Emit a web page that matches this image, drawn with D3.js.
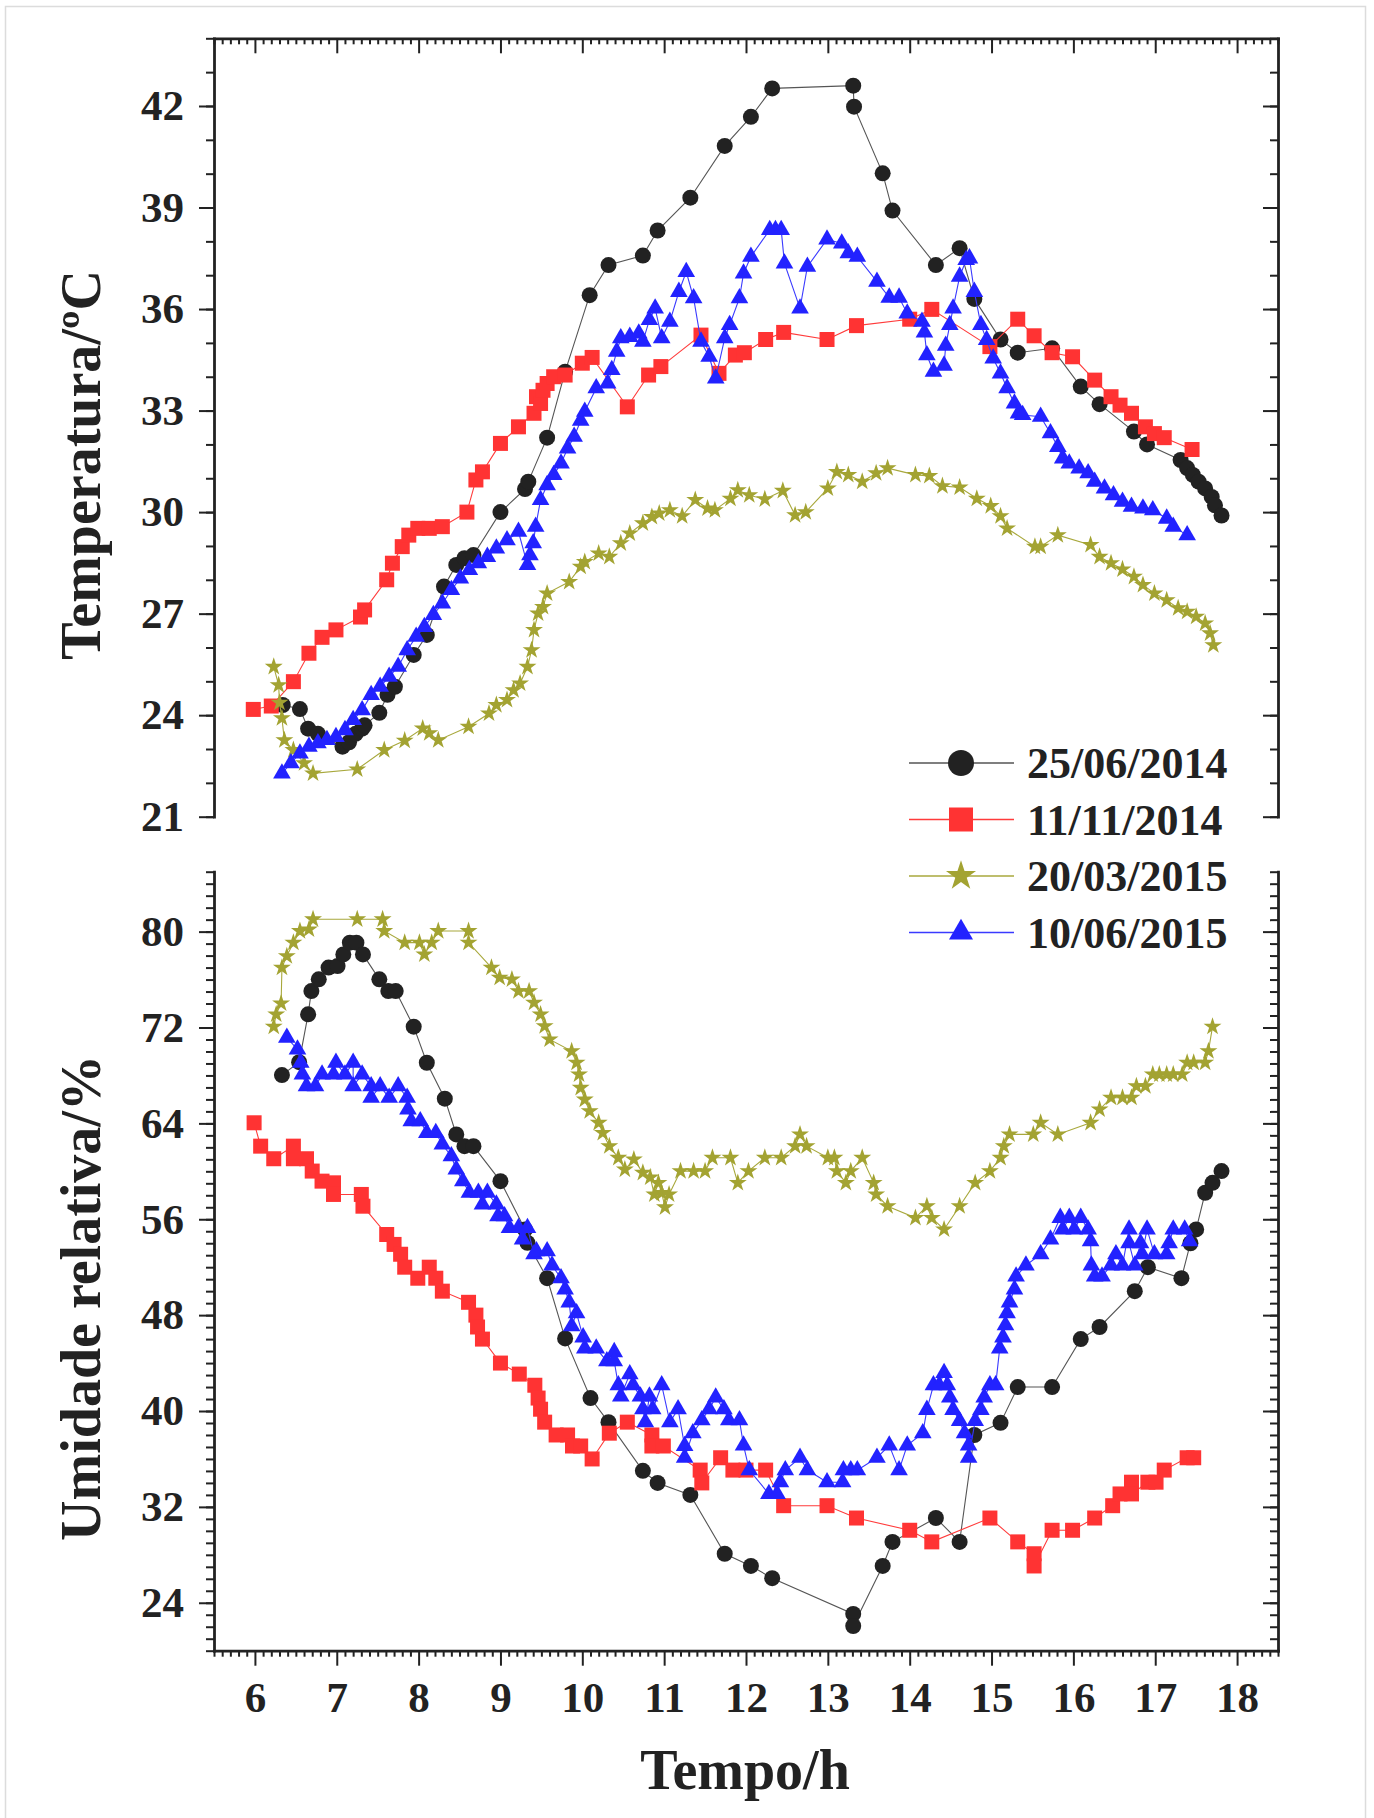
<!DOCTYPE html>
<html>
<head>
<meta charset="utf-8">
<script src="https://cdn.jsdelivr.net/npm/d3@7"></script>
<style>
  body { margin: 0; background: #fff; }
  svg text { font-family: "Liberation Serif", "Times New Roman", serif; font-weight: bold; fill: #222; }
</style>
</head>
<body>
<svg id="chart" width="1374" height="1818"></svg>
<script>
// series names (legend)
const seriesNames = ['25/06/2014', '11/11/2014', '20/03/2015', '10/06/2015'];

// temperature, [hour, degC]
const tempA = [[6.34,24.3],[6.55,24.18],[6.65,23.6],[6.77,23.45],[7.07,23.07],[7.15,23.2],[7.23,23.45],[7.31,23.6],[7.34,23.7],[7.52,24.07],[7.62,24.6],[7.71,24.84],[7.94,25.78],[8.1,26.37],[8.31,27.8],[8.46,28.44],[8.56,28.64],[8.67,28.73],[9.0,30.0],[9.3,30.68],[9.34,30.9],[9.57,32.2],[9.79,34.15],[10.09,36.41],[10.32,37.3],[10.74,37.58],[10.92,38.32],[11.32,39.29],[11.74,40.82],[12.06,41.68],[12.32,42.52],[13.31,42.6],[13.32,41.98],[13.67,40.01],[13.79,38.91],[14.32,37.3],[14.61,37.8],[14.79,36.3],[15.11,35.1],[15.32,34.71],[15.74,34.84],[16.09,33.71],[16.32,33.19],[16.74,32.38],[16.9,32.0],[17.31,31.54],[17.39,31.3],[17.46,31.1],[17.53,30.9],[17.61,30.7],[17.69,30.45],[17.73,30.2],[17.81,29.9]];
const tempB = [[5.98,24.17],[6.2,24.27],[6.47,24.99],[6.66,25.83],[6.82,26.3],[6.99,26.52],[7.29,26.9],[7.34,27.11],[7.61,28.0],[7.68,28.49],[7.8,28.98],[7.88,29.32],[7.99,29.52],[8.13,29.52],[8.29,29.57],[8.59,30.0],[8.7,30.95],[8.78,31.19],[9.0,32.03],[9.22,32.52],[9.41,32.92],[9.44,33.41],[9.49,33.21],[9.52,33.6],[9.57,33.8],[9.65,34.0],[9.79,34.05],[10.0,34.4],[10.12,34.57],[10.55,33.11],[10.81,34.05],[10.96,34.3],[11.45,35.23],[11.67,34.1],[11.87,34.64],[11.98,34.71],[12.24,35.1],[12.46,35.31],[12.99,35.1],[13.35,35.51],[14.0,35.7],[14.27,35.99],[14.98,34.89],[15.32,35.7],[15.52,35.21],[15.74,34.71],[15.99,34.59],[16.26,33.9],[16.46,33.41],[16.57,33.16],[16.71,32.92],[16.88,32.52],[16.99,32.32],[17.11,32.2],[17.45,31.85]];
const tempC = [[6.23,25.43],[6.29,24.89],[6.3,24.37],[6.33,23.91],[6.36,23.26],[6.47,22.97],[6.6,22.58],[6.71,22.28],[7.25,22.4],[7.58,22.97],[7.83,23.25],[8.05,23.61],[8.13,23.47],[8.24,23.26],[8.61,23.66],[8.86,24.05],[8.95,24.3],[9.08,24.45],[9.16,24.74],[9.24,24.94],[9.33,25.43],[9.38,25.92],[9.41,26.52],[9.46,27.01],[9.52,27.2],[9.57,27.6],[9.84,27.94],[9.98,28.39],[10.03,28.53],[10.2,28.78],[10.33,28.68],[10.47,29.08],[10.58,29.37],[10.74,29.67],[10.85,29.86],[10.94,29.96],[11.07,30.06],[11.22,29.88],[11.38,30.36],[11.53,30.11],[11.62,30.06],[11.81,30.4],[11.9,30.65],[12.04,30.5],[12.23,30.38],[12.45,30.63],[12.6,29.91],[12.73,30.0],[13.0,30.7],[13.11,31.19],[13.25,31.1],[13.42,30.9],[13.59,31.15],[13.73,31.3],[14.07,31.1],[14.24,31.07],[14.4,30.77],[14.61,30.73],[14.82,30.4],[14.99,30.18],[15.11,29.88],[15.19,29.52],[15.53,28.98],[15.6,28.98],[15.81,29.32],[16.21,29.03],[16.32,28.68],[16.46,28.49],[16.6,28.31],[16.74,28.09],[16.85,27.85],[16.99,27.6],[17.14,27.4],[17.28,27.16],[17.39,27.06],[17.5,26.91],[17.61,26.71],[17.67,26.42],[17.71,26.07]];
const tempD = [[6.33,22.28],[6.44,22.58],[6.55,22.87],[6.66,23.07],[6.77,23.17],[6.88,23.27],[6.99,23.36],[7.1,23.56],[7.2,23.86],[7.31,24.15],[7.42,24.6],[7.53,24.84],[7.64,25.14],[7.75,25.43],[7.86,25.92],[7.97,26.32],[8.07,26.61],[8.18,26.96],[8.29,27.3],[8.4,27.7],[8.51,28.04],[8.62,28.29],[8.73,28.49],[8.84,28.68],[8.95,28.93],[9.08,29.17],[9.22,29.42],[9.33,28.44],[9.36,28.73],[9.4,29.08],[9.43,29.57],[9.49,30.36],[9.57,30.8],[9.65,31.1],[9.74,31.44],[9.82,31.88],[9.9,32.23],[9.98,32.7],[10.03,32.97],[10.17,33.66],[10.31,33.8],[10.36,34.2],[10.42,34.74],[10.47,35.14],[10.58,35.18],[10.69,35.28],[10.74,35.04],[10.82,35.68],[10.89,36.02],[10.97,35.14],[11.07,35.63],[11.18,36.51],[11.27,37.1],[11.36,36.32],[11.45,35.04],[11.55,34.59],[11.63,33.95],[11.74,35.14],[11.8,35.53],[11.92,36.32],[11.97,37.05],[12.06,37.55],[12.29,38.34],[12.36,38.34],[12.43,38.34],[12.47,37.35],[12.66,36.02],[12.75,37.25],[12.99,38.06],[13.17,37.94],[13.25,37.65],[13.36,37.55],[13.6,36.81],[13.75,36.34],[13.87,36.34],[13.97,35.87],[14.15,35.63],[14.18,35.31],[14.21,34.64],[14.29,34.15],[14.42,34.33],[14.44,34.92],[14.49,35.53],[14.53,36.02],[14.61,36.96],[14.69,37.45],[14.73,37.5],[14.79,36.51],[14.87,35.53],[14.94,35.09],[15.02,34.54],[15.11,34.1],[15.19,33.66],[15.28,33.21],[15.33,32.92],[15.38,32.87],[15.6,32.82],[15.72,32.33],[15.81,31.93],[15.87,31.59],[15.95,31.44],[16.07,31.29],[16.18,31.15],[16.26,30.9],[16.38,30.7],[16.49,30.5],[16.6,30.31],[16.71,30.16],[16.85,30.11],[16.97,30.06],[17.14,29.81],[17.22,29.57],[17.39,29.32]];

// relative humidity, [hour, %]
const rhA = [[6.33,68.03],[6.54,69.11],[6.65,73.1],[6.69,75.04],[6.78,76.02],[6.9,77.0],[7.01,77.13],[7.08,78.1],[7.16,79.08],[7.24,79.08],[7.32,78.1],[7.52,76.02],[7.63,75.04],[7.72,75.04],[7.94,72.07],[8.1,69.06],[8.32,66.06],[8.46,63.08],[8.56,62.1],[8.67,62.1],[9.0,59.18],[9.3,55.15],[9.33,54.03],[9.57,51.08],[9.79,46.06],[10.1,41.08],[10.32,39.07],[10.74,35.01],[10.92,34.0],[11.32,33.0],[11.74,28.09],[12.06,27.07],[12.32,26.05],[13.31,23.07],[13.31,22.06],[13.67,27.07],[13.79,29.08],[14.32,31.07],[14.61,29.08],[14.79,38.0],[15.11,39.01],[15.32,42.0],[15.74,42.0],[16.09,46.0],[16.32,47.01],[16.75,50.0],[16.91,52.0],[17.32,51.08],[17.43,54.0],[17.5,55.15],[17.61,58.21],[17.7,59.04],[17.81,60.02]];
const rhB = [[5.99,64.05],[6.07,62.1],[6.23,61.05],[6.47,62.1],[6.47,61.05],[6.63,61.05],[6.7,60.02],[6.82,59.18],[6.96,59.04],[6.96,58.07],[7.3,58.07],[7.32,57.09],[7.61,54.73],[7.7,53.9],[7.78,53.08],[7.83,52.0],[7.99,51.08],[8.13,52.0],[8.21,51.08],[8.29,50.0],[8.61,49.07],[8.7,48.0],[8.72,47.01],[8.78,46.0],[9.0,44.0],[9.23,43.08],[9.42,42.15],[9.46,41.08],[9.49,40.15],[9.54,39.07],[9.68,38.0],[9.82,38.0],[9.88,37.08],[9.98,37.08],[10.12,36.0],[10.33,38.15],[10.55,39.07],[10.85,38.0],[10.85,37.08],[10.99,37.08],[11.44,35.07],[11.46,34.0],[11.69,36.1],[11.84,35.07],[12.0,35.07],[12.24,35.07],[12.46,32.1],[12.99,32.1],[13.35,31.07],[14.0,30.05],[14.27,29.08],[14.98,31.07],[15.32,29.08],[15.52,28.09],[15.52,27.07],[15.74,30.05],[15.99,30.05],[16.26,31.07],[16.48,32.1],[16.57,33.08],[16.71,34.06],[16.71,33.08],[16.91,34.06],[17.01,34.06],[17.11,35.07],[17.39,36.1],[17.47,36.1]];
const rhC = [[6.23,72.07],[6.26,73.1],[6.32,74.01],[6.33,77.0],[6.39,77.96],[6.47,79.08],[6.55,80.05],[6.66,80.19],[6.71,81.03],[7.25,81.03],[7.56,81.03],[7.58,80.05],[7.83,79.08],[8.01,79.08],[8.07,78.1],[8.16,79.08],[8.24,80.05],[8.61,80.05],[8.61,79.08],[8.89,77.0],[8.99,76.16],[9.14,76.02],[9.22,75.04],[9.35,75.04],[9.41,74.07],[9.49,73.1],[9.54,72.12],[9.6,71.0],[9.87,70.03],[9.93,69.06],[9.96,68.08],[9.98,66.97],[10.03,65.99],[10.09,65.02],[10.2,64.05],[10.25,63.21],[10.33,62.1],[10.44,61.13],[10.52,60.15],[10.63,60.99],[10.74,59.88],[10.83,59.5],[10.88,58.07],[10.93,59.04],[10.97,58.2],[11.01,57.0],[11.06,58.07],[11.2,60.02],[11.36,60.02],[11.5,60.02],[11.59,61.13],[11.81,61.13],[11.9,59.04],[12.03,60.02],[12.23,61.13],[12.43,61.13],[12.6,62.1],[12.66,63.08],[12.74,62.1],[13.0,61.13],[13.08,61.13],[13.11,60.02],[13.22,59.04],[13.28,60.02],[13.42,61.13],[13.56,59.04],[13.59,58.07],[13.73,57.09],[14.07,56.12],[14.21,57.09],[14.27,56.12],[14.42,55.15],[14.61,57.09],[14.8,59.04],[14.98,60.02],[15.11,61.13],[15.15,62.1],[15.22,63.08],[15.51,63.08],[15.6,64.05],[15.81,63.08],[16.21,64.05],[16.32,65.16],[16.46,66.14],[16.6,66.14],[16.71,66.14],[16.77,67.11],[16.88,67.11],[16.97,68.08],[17.05,68.08],[17.14,68.08],[17.22,68.08],[17.33,68.08],[17.39,69.06],[17.47,69.06],[17.61,69.06],[17.65,70.03],[17.7,72.07]];
const rhD = [[6.39,71.15],[6.52,70.17],[6.56,69.06],[6.58,68.08],[6.63,67.11],[6.74,67.11],[6.82,68.08],[6.96,68.08],[6.99,69.06],[7.1,68.08],[7.2,69.06],[7.2,67.11],[7.31,68.08],[7.42,67.11],[7.42,66.14],[7.53,67.11],[7.64,66.14],[7.75,67.11],[7.86,66.14],[7.87,65.16],[7.91,64.19],[8.02,64.19],[8.1,63.21],[8.21,63.21],[8.29,62.24],[8.4,61.26],[8.46,60.15],[8.54,59.18],[8.62,58.21],[8.73,58.21],[8.78,57.23],[8.84,58.21],[8.95,57.23],[8.97,56.25],[9.05,56.25],[9.11,55.28],[9.22,55.28],[9.27,54.31],[9.33,55.28],[9.41,53.08],[9.44,53.33],[9.57,53.33],[9.63,52.15],[9.74,51.08],[9.79,50.15],[9.84,49.07],[9.87,47.08],[9.93,48.16],[10.01,46.15],[10.03,45.23],[10.17,45.23],[10.3,44.15],[10.39,44.92],[10.39,44.15],[10.44,42.15],[10.47,41.22],[10.58,43.08],[10.62,42.15],[10.71,41.22],[10.74,40.15],[10.77,39.07],[10.82,41.22],[10.86,40.15],[10.97,42.15],[11.07,39.07],[11.17,40.15],[11.25,37.08],[11.25,36.1],[11.35,38.15],[11.46,39.23],[11.55,40.15],[11.63,41.13],[11.73,40.15],[11.79,39.23],[11.92,39.23],[11.97,37.13],[12.04,35.07],[12.28,33.08],[12.38,33.08],[12.42,34.06],[12.48,35.07],[12.66,36.1],[12.75,35.07],[12.99,34.06],[13.18,34.06],[13.19,35.07],[13.28,35.07],[13.36,35.07],[13.6,36.1],[13.75,37.13],[13.87,35.07],[13.97,37.13],[14.16,38.15],[14.21,40.1],[14.29,42.15],[14.36,42.15],[14.42,43.17],[14.46,42.15],[14.49,41.13],[14.53,40.1],[14.61,39.17],[14.67,38.15],[14.72,37.13],[14.72,36.1],[14.8,39.17],[14.87,40.1],[14.91,41.13],[14.98,42.15],[15.05,42.15],[15.1,45.23],[15.14,46.15],[15.17,47.17],[15.19,48.16],[15.22,49.07],[15.28,50.15],[15.3,51.23],[15.42,52.15],[15.6,53.08],[15.72,54.31],[15.84,56.12],[15.87,55.15],[15.95,56.12],[16.01,55.15],[16.09,56.12],[16.18,55.15],[16.21,54.17],[16.22,52.15],[16.26,51.23],[16.35,51.23],[16.46,52.15],[16.52,53.08],[16.6,52.15],[16.68,55.15],[16.68,54.0],[16.75,52.15],[16.82,54.0],[16.84,53.08],[16.9,55.15],[16.99,53.08],[17.14,53.08],[17.17,54.0],[17.22,55.15],[17.36,55.15],[17.42,54.17]];

// tick values
const hourTicks = d3.range(6, 19);
const tempTicks = [21, 24, 27, 30, 33, 36, 39, 42];
const rhTicks = [24, 32, 40, 48, 56, 64, 72, 80];

const svg = d3.select('#chart');

// light frame round the figure
svg.append('rect')
  .attr('x', 5.5).attr('y', 6.5)
  .attr('width', 1360).attr('height', 1830)
  .attr('fill', 'none').attr('stroke', '#dcdcdc').attr('stroke-width', 1.5);

const x = d3.scaleLinear().domain([5.5, 18.5]).range([214, 1278]);
const yT = d3.scaleLinear().domain([21, 44]).range([816.7, 38.3]);
const yH = d3.scaleLinear().domain([20, 85]).range([1650.7, 871.7]);

const minorHours = d3.range(55, 186).filter(d => d % 10 !== 0).map(d => d / 10);

// style an axis group
function styleAxis(g, keepDomain) {
  g.select('.domain')
    .attr('stroke', keepDomain ? '#222' : 'none')
    .attr('stroke-width', 2.8)
    .attr('stroke-linecap', 'square');
  g.selectAll('.tick line').attr('stroke', '#222').attr('stroke-width', 2);
  g.selectAll('.tick text')
    .style('font-size', '43px')
    .attr('fill', '#222');
}

// draws one vertical axis with major + minor ticks
function yAxisPair(scale, tx, gen, major, minor, withLabels) {
  const gMin = svg.append('g').attr('transform', `translate(${tx},0)`);
  gMin.call(gen(scale).tickValues(minor).tickSize(8).tickSizeOuter(0).tickFormat(''));
  styleAxis(gMin, false);
  const gMaj = svg.append('g').attr('transform', `translate(${tx},0)`);
  gMaj.call(gen(scale).tickValues(major).tickSize(15).tickSizeOuter(0)
    .tickPadding(15).tickFormat(withLabels ? d3.format('d') : ''));
  styleAxis(gMaj, true);
}

// top panel: temperature
yAxisPair(yT, 214, d3.axisLeft, tempTicks, d3.range(21, 45), true);
yAxisPair(yT, 1278, d3.axisLeft, tempTicks, d3.range(21, 45), false);
{
  const gMin = svg.append('g').attr('transform', 'translate(0,38.3)');
  gMin.call(d3.axisBottom(x).tickValues(minorHours).tickSize(6).tickSizeOuter(0).tickFormat(''));
  styleAxis(gMin, false);
  const gMaj = svg.append('g').attr('transform', 'translate(0,38.3)');
  gMaj.call(d3.axisBottom(x).tickValues(hourTicks).tickSize(15).tickSizeOuter(0).tickFormat(''));
  styleAxis(gMaj, true);
}

// bottom panel: relative humidity
yAxisPair(yH, 214, d3.axisLeft, rhTicks, d3.range(20, 86), true);
yAxisPair(yH, 1278, d3.axisLeft, rhTicks, d3.range(20, 86), false);
{
  const gMin = svg.append('g').attr('transform', 'translate(0,1650.7)');
  gMin.call(d3.axisBottom(x).tickValues(minorHours).tickSize(6).tickSizeOuter(0).tickFormat(''));
  styleAxis(gMin, false);
  const gMaj = svg.append('g').attr('transform', 'translate(0,1650.7)');
  gMaj.call(d3.axisBottom(x).tickValues(hourTicks).tickSize(15).tickSizeOuter(0)
    .tickPadding(16).tickFormat(d3.format('d')));
  styleAxis(gMaj, true);
}

// axis titles
svg.append('text')
  .attr('transform', 'translate(100,465) rotate(-90)')
  .attr('text-anchor', 'middle')
  .style('font-size', '56px')
  .text('Temperatura/ºC');
svg.append('text')
  .attr('transform', 'translate(100,1298) rotate(-90)')
  .attr('text-anchor', 'middle')
  .style('font-size', '56px')
  .text('Umidade relativa/%');
svg.append('text')
  .attr('x', 745).attr('y', 1789)
  .attr('text-anchor', 'middle')
  .style('font-size', '56px')
  .text('Tempo/h');

// series styles: line colour, marker colour, symbol, plot size, legend size
const styles = [
  {line: '#555', fill: '#222', sym: d3.symbolCircle, size: 201, lsize: 530},
  {line: '#ff3b3b', fill: '#ff3333', sym: d3.symbolSquare, size: 225, lsize: 576},
  {line: '#a8a83c', fill: '#a3a332', sym: d3.symbolStar, size: 100, lsize: 280},
  {line: '#3a3aff', fill: '#2222ff', sym: d3.symbolTriangle, size: 135, lsize: 250}
];

function drawSeries(data, yScale, st) {
  const line = d3.line().x(d => x(d[0])).y(d => yScale(d[1]));
  svg.append('path')
    .datum(data)
    .attr('d', line)
    .attr('fill', 'none')
    .attr('stroke', st.line)
    .attr('stroke-width', 1.1);
  svg.append('g').selectAll('path')
    .data(data)
    .join('path')
    .attr('transform', d => `translate(${x(d[0])},${yScale(d[1])})`)
    .attr('d', d3.symbol().type(st.sym).size(st.size))
    .attr('fill', st.fill);
}

[tempA, tempB, tempC, tempD].forEach((s, i) => drawSeries(s, yT, styles[i]));
[rhA, rhB, rhC, rhD].forEach((s, i) => drawSeries(s, yH, styles[i]));

// legend
const legendY = [763, 819.5, 876, 932.5];
seriesNames.forEach((name, i) => {
  const st = styles[i];
  const g = svg.append('g').attr('transform', `translate(0,${legendY[i]})`);
  g.append('line')
    .attr('x1', 909).attr('x2', 1014).attr('y1', 0).attr('y2', 0)
    .attr('stroke', st.line).attr('stroke-width', 1.5);
  g.append('path')
    .attr('transform', 'translate(961,0)')
    .attr('d', d3.symbol().type(st.sym).size(st.lsize))
    .attr('fill', st.fill);
  g.append('text')
    .attr('x', 1027).attr('y', 15)
    .style('font-size', '44px')
    .text(name);
});
</script>
</body>
</html>
